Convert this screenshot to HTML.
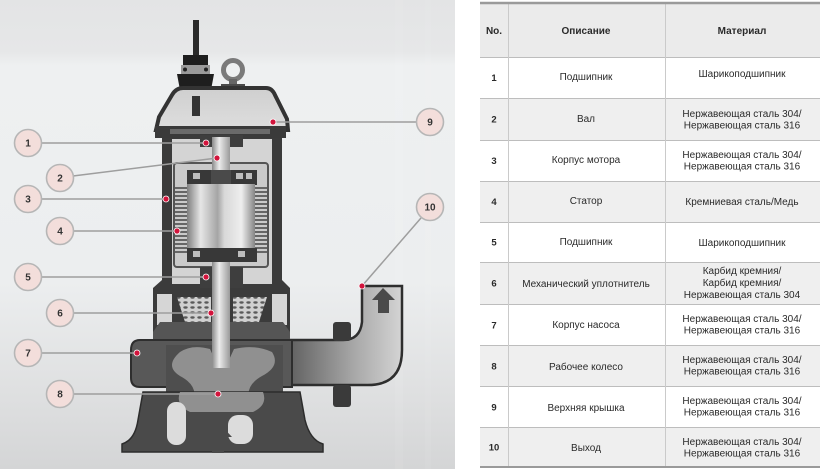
<!DOCTYPE html>
<html><head><meta charset="utf-8"><style>
html,body{margin:0;padding:0;background:#fff;}
svg{display:block;}
text{font-family:"Liberation Sans","DejaVu Sans",sans-serif;}
</style></head><body>
<svg width="822" height="469" viewBox="0 0 822 469" xmlns="http://www.w3.org/2000/svg">
<defs>
<linearGradient id="bg" x1="0" y1="0" x2="0" y2="1">
<stop offset="0" stop-color="#e3e4e5"/><stop offset="0.11" stop-color="#e6e7e8"/>
<stop offset="0.14" stop-color="#eef0f1"/><stop offset="0.6" stop-color="#eceeef"/>
<stop offset="0.85" stop-color="#dedfe0"/><stop offset="1" stop-color="#d4d5d6"/>
</linearGradient>
<linearGradient id="rotor" x1="0" y1="0" x2="1" y2="0">
<stop offset="0" stop-color="#7e7e7e"/><stop offset="0.2" stop-color="#e6e6e6"/>
<stop offset="0.45" stop-color="#a5a5a5"/><stop offset="0.55" stop-color="#d8d8d8"/>
<stop offset="0.8" stop-color="#eeeeee"/><stop offset="1" stop-color="#858585"/>
</linearGradient>
<linearGradient id="shaft" x1="0" y1="0" x2="1" y2="0">
<stop offset="0" stop-color="#8a8a8a"/><stop offset="0.4" stop-color="#ececec"/>
<stop offset="1" stop-color="#9a9a9a"/>
</linearGradient>
<linearGradient id="pipe" x1="0" y1="0" x2="1" y2="0">
<stop offset="0" stop-color="#5a5a5a"/><stop offset="0.6" stop-color="#a8a8a8"/>
<stop offset="1" stop-color="#d4d4d4"/>
</linearGradient>
<linearGradient id="cover" x1="0" y1="0" x2="0" y2="1">
<stop offset="0" stop-color="#cfcfcf"/><stop offset="1" stop-color="#dedede"/>
</linearGradient>
<pattern id="hatch" width="7" height="5" patternUnits="userSpaceOnUse">
<rect width="7" height="5" fill="#d0d0d0"/><ellipse cx="3.5" cy="2.5" rx="2.2" ry="1.2" fill="#5a5a5a"/>
</pattern>
</defs>

<!-- left panel background -->
<rect x="0" y="0" width="455" height="469" fill="url(#bg)"/>
<rect x="395" y="0" width="8" height="469" fill="#ffffff" opacity="0.07"/>
<rect x="425" y="0" width="6" height="469" fill="#ffffff" opacity="0.06"/>

<!-- cable gland -->
<rect x="193" y="20" width="6" height="38" fill="#2a2a2a"/>
<rect x="183" y="55" width="25" height="11" fill="#1e1e1e"/>
<rect x="181" y="65" width="29" height="9" fill="#9a9a9a"/>
<circle cx="185" cy="69.5" r="2" fill="#222"/><circle cx="206" cy="69.5" r="2" fill="#222"/>
<path d="M177,74 L214,74 L211,90 L201,98 L190,98 L180,90 Z" fill="#1e1e1e"/>

<!-- eye bolt -->
<circle cx="233" cy="70" r="9.5" fill="none" stroke="#7a7a7a" stroke-width="5"/>
<rect x="229" y="79" width="8" height="8" fill="#666"/>
<rect x="221" y="84" width="24" height="5" fill="#4a4a4a"/>

<!-- top cover -->
<path d="M156,130 L159,117 L172,95 Q176,88 183,88 L266,88 Q272,88 275,95 L287,119 L288,130 Z" fill="url(#cover)" stroke="#333" stroke-width="4"/>
<rect x="192" y="96" width="8" height="20" fill="#333"/>

<!-- motor housing -->
<path d="M162,137 L282,137 L282,280 L290,288 L290,332 L153,332 L153,288 L162,280 Z" fill="#3b3b3b"/>
<rect x="172" y="139" width="100" height="145" fill="#d4d4d4"/>
<rect x="155" y="126" width="131" height="12" fill="#3a3a3a"/>
<rect x="170" y="129" width="100" height="5" fill="#6a6a6a"/>

<!-- inner frame -->
<rect x="174" y="163" width="94" height="104" rx="3" fill="#cacaca" stroke="#555" stroke-width="2"/>
<!-- stator fins -->
<path d="M175,188H188M175,192H188M175,196H188M175,200H188M175,204H188M175,208H188M175,212H188M175,216H188M175,220H188M175,224H188M175,228H188M175,232H188M175,236H188M175,240H188M175,244H188M175,248H188M175,252H188
M254,188H267M254,192H267M254,196H267M254,200H267M254,204H267M254,208H267M254,212H267M254,216H267M254,220H267M254,224H267M254,228H267M254,232H267M254,236H267M254,240H267M254,244H267M254,248H267M254,252H267" stroke="#444" stroke-width="1.6"/>
<!-- bearings -->
<rect x="200" y="135" width="43" height="12" fill="#3e3e3e"/>
<rect x="200" y="267" width="43" height="21" fill="#3e3e3e"/>
<!-- shaft -->
<rect x="212" y="137" width="18" height="231" fill="url(#shaft)"/>
<!-- rotor -->
<rect x="187" y="170" width="70" height="15" fill="#383838"/>
<rect x="211" y="170" width="20" height="15" fill="#4a4a4a"/>
<rect x="193" y="173" width="7" height="6" fill="#bdbdbd"/><rect x="236" y="173" width="7" height="6" fill="#bdbdbd"/><rect x="246" y="173" width="6" height="6" fill="#bdbdbd"/>
<rect x="187" y="184" width="68" height="65" fill="url(#rotor)"/>
<rect x="187" y="248" width="70" height="14" fill="#383838"/>
<rect x="193" y="251" width="7" height="6" fill="#bdbdbd"/><rect x="238" y="251" width="7" height="6" fill="#bdbdbd"/>

<!-- seal chamber -->
<rect x="157" y="294" width="15" height="31" fill="#d6d6d6"/>
<rect x="272" y="294" width="15" height="31" fill="#d6d6d6"/>
<path d="M177,297 L211,297 L211,322 L185,322 Z" fill="url(#hatch)"/>
<path d="M233,297 L267,297 L259,322 L233,322 Z" fill="url(#hatch)"/>

<!-- discharge pipe -->
<path d="M283,340 L343,340 Q360,340 362,322 L362,286 L402,286 L402,350 Q402,385 368,385 L283,385 Z" fill="url(#pipe)" stroke="#2e2e2e" stroke-width="2.5"/>
<rect x="333" y="322" width="18" height="19" rx="3" fill="#3a3a3a"/>
<rect x="333" y="385" width="18" height="22" rx="3" fill="#3a3a3a"/>
<path d="M372,300 L383,288 L395,300 L389,300 L389,313 L378,313 L378,300 Z" fill="#4a4a4a"/>

<!-- pump casing -->
<path d="M160,322 L283,322 L290,332 L290,340 L153,340 L153,332 Z" fill="#555"/>
<path d="M140,340 L292,340 L292,387 L140,387 Q131,387 131,378 L131,350 Q131,340 140,340 Z" fill="#585858" stroke="#2e2e2e" stroke-width="2"/>
<rect x="166" y="345" width="117" height="55" fill="#4e4e4e"/>
<!-- impeller -->
<path d="M180,352 Q192,344 210,349 L216,362 L228,362 L234,349 Q255,344 272,352 Q281,366 262,376 Q246,385 249,398 L253,412 L190,412 L194,398 Q197,385 180,376 Q164,366 180,352 Z" fill="#909090"/>
<rect x="212" y="288" width="18" height="80" fill="url(#shaft)"/>
<!-- base -->
<path d="M143,392 L300,392 L305,420 Q310,440 323,444 L323,452 L122,452 L122,444 Q135,440 138,420 Z" fill="#4a4a4a" stroke="#2c2c2c" stroke-width="1.5"/>
<path d="M180,392 Q175,405 190,412 L253,412 Q268,405 263,392 Z" fill="#909090"/>
<rect x="167" y="402" width="19" height="43" rx="9" fill="#dcdcdc"/>
<rect x="228" y="415" width="25" height="29" rx="10" fill="#dcdcdc"/>
<path d="M205,437 L218,422 L232,437 L224,437 L224,453 L212,453 L212,437 Z" fill="#4a4a4a"/>

<!-- callout lines -->
<g stroke="#9e9e9e" stroke-width="1.5" fill="none">
<line x1="42" y1="143" x2="206" y2="143"/>
<line x1="73" y1="176" x2="217" y2="158"/>
<line x1="42" y1="199" x2="166" y2="199"/>
<line x1="74" y1="231" x2="177" y2="231"/>
<line x1="42" y1="277" x2="206" y2="277"/>
<line x1="74" y1="313" x2="211" y2="313"/>
<line x1="42" y1="353" x2="137" y2="353"/>
<line x1="74" y1="394" x2="218" y2="394"/>
<line x1="273" y1="122" x2="416" y2="122"/>
<line x1="421" y1="218" x2="362" y2="286"/>
</g>
<!-- dots -->
<g>
<circle cx="206" cy="143" r="3.4" fill="#fff"/><circle cx="206" cy="143" r="2.6" fill="#d2143c"/>
<circle cx="217" cy="158" r="3.4" fill="#fff"/><circle cx="217" cy="158" r="2.6" fill="#d2143c"/>
<circle cx="166" cy="199" r="3.4" fill="#fff"/><circle cx="166" cy="199" r="2.6" fill="#d2143c"/>
<circle cx="177" cy="231" r="3.4" fill="#fff"/><circle cx="177" cy="231" r="2.6" fill="#d2143c"/>
<circle cx="206" cy="277" r="3.4" fill="#fff"/><circle cx="206" cy="277" r="2.6" fill="#d2143c"/>
<circle cx="211" cy="313" r="3.4" fill="#fff"/><circle cx="211" cy="313" r="2.6" fill="#d2143c"/>
<circle cx="137" cy="353" r="3.4" fill="#fff"/><circle cx="137" cy="353" r="2.6" fill="#d2143c"/>
<circle cx="218" cy="394" r="3.4" fill="#fff"/><circle cx="218" cy="394" r="2.6" fill="#d2143c"/>
<circle cx="273" cy="122" r="3.4" fill="#fff"/><circle cx="273" cy="122" r="2.6" fill="#d2143c"/>
<circle cx="362" cy="286" r="3.4" fill="#fff"/><circle cx="362" cy="286" r="2.6" fill="#d2143c"/>
</g>
<!-- callout circles -->
<g fill="#f3dedb" stroke="#b6b6b6" stroke-width="1.6">
<circle cx="28" cy="143" r="13.5"/><circle cx="60" cy="178" r="13.5"/>
<circle cx="28" cy="199" r="13.5"/><circle cx="60" cy="231" r="13.5"/>
<circle cx="28" cy="277" r="13.5"/><circle cx="60" cy="313" r="13.5"/>
<circle cx="28" cy="353" r="13.5"/><circle cx="60" cy="394" r="13.5"/>
<circle cx="430" cy="122" r="13.5"/><circle cx="430" cy="207" r="13.5"/>
</g>
<g font-size="10" font-weight="bold" fill="#333" text-anchor="middle">
<text x="28" y="146.5">1</text><text x="60" y="181.5">2</text>
<text x="28" y="202.5">3</text><text x="60" y="234.5">4</text>
<text x="28" y="280.5">5</text><text x="60" y="316.5">6</text>
<text x="28" y="356.5">7</text><text x="60" y="397.5">8</text>
<text x="430" y="125.5">9</text><text x="430" y="210.5">10</text>
</g>

<!-- TABLE -->
<rect x="480" y="3" width="340" height="54" fill="#ebebeb"/>
<rect x="480" y="98" width="340" height="42" fill="#efefef"/>
<rect x="480" y="181" width="340" height="41" fill="#efefef"/>
<rect x="480" y="262" width="340" height="42" fill="#efefef"/>
<rect x="480" y="345" width="340" height="41" fill="#efefef"/>
<rect x="480" y="427" width="340" height="40" fill="#efefef"/>
<g stroke="#bdbdbd" stroke-width="1">
<line x1="480" y1="57.5" x2="820" y2="57.5"/>
<line x1="480" y1="98.5" x2="820" y2="98.5"/>
<line x1="480" y1="140.5" x2="820" y2="140.5"/>
<line x1="480" y1="181.5" x2="820" y2="181.5"/>
<line x1="480" y1="222.5" x2="820" y2="222.5"/>
<line x1="480" y1="262.5" x2="820" y2="262.5"/>
<line x1="480" y1="304.5" x2="820" y2="304.5"/>
<line x1="480" y1="345.5" x2="820" y2="345.5"/>
<line x1="480" y1="386.5" x2="820" y2="386.5"/>
<line x1="480" y1="427.5" x2="820" y2="427.5"/>
</g>
<g stroke="#cacaca" stroke-width="1">
<line x1="508.5" y1="3" x2="508.5" y2="467"/>
<line x1="665.5" y1="3" x2="665.5" y2="467"/>
</g>
<line x1="480" y1="3" x2="820" y2="3" stroke="#9a9a9a" stroke-width="2.5"/>
<line x1="480" y1="467" x2="820" y2="467" stroke="#9a9a9a" stroke-width="2"/>

<g font-size="10" font-weight="bold" fill="#2a2a2a" text-anchor="middle">
<text x="494" y="34">No.</text>
<text x="586" y="34">Описание</text>
<text x="742" y="34">Материал</text>
</g>
<g font-size="9.5" font-weight="bold" fill="#2a2a2a" text-anchor="middle">
<text x="494" y="81">1</text>
<text x="494" y="122.5">2</text>
<text x="494" y="164">3</text>
<text x="494" y="205">4</text>
<text x="494" y="245.5">5</text>
<text x="494" y="286.5">6</text>
<text x="494" y="328.5">7</text>
<text x="494" y="369.5">8</text>
<text x="494" y="410.5">9</text>
<text x="494" y="450.5">10</text>
</g>
<g font-size="10" fill="#2a2a2a" text-anchor="middle">
<text x="586" y="80">Подшипник</text>
<text x="742" y="77">Шарикоподшипник</text>
<text x="586" y="122">Вал</text>
<text x="742" y="117">Нержавеющая сталь 304/</text>
<text x="742" y="128.5">Нержавеющая сталь 316</text>
<text x="586" y="163">Корпус мотора</text>
<text x="742" y="158">Нержавеющая сталь 304/</text>
<text x="742" y="169.5">Нержавеющая сталь 316</text>
<text x="586" y="204">Статор</text>
<text x="742" y="205">Кремниевая сталь/Медь</text>
<text x="586" y="245">Подшипник</text>
<text x="742" y="246">Шарикоподшипник</text>
<text x="586" y="287">Механический уплотнитель</text>
<text x="742" y="274">Карбид кремния/</text>
<text x="742" y="286">Карбид кремния/</text>
<text x="742" y="298">Нержавеющая сталь 304</text>
<text x="586" y="328">Корпус насоса</text>
<text x="742" y="322">Нержавеющая сталь 304/</text>
<text x="742" y="333.5">Нержавеющая сталь 316</text>
<text x="586" y="370">Рабочее колесо</text>
<text x="742" y="363">Нержавеющая сталь 304/</text>
<text x="742" y="374.5">Нержавеющая сталь 316</text>
<text x="586" y="411">Верхняя крышка</text>
<text x="742" y="404">Нержавеющая сталь 304/</text>
<text x="742" y="415.5">Нержавеющая сталь 316</text>
<text x="586" y="451">Выход</text>
<text x="742" y="445">Нержавеющая сталь 304/</text>
<text x="742" y="456.5">Нержавеющая сталь 316</text>
</g>
</svg>
</body></html>
